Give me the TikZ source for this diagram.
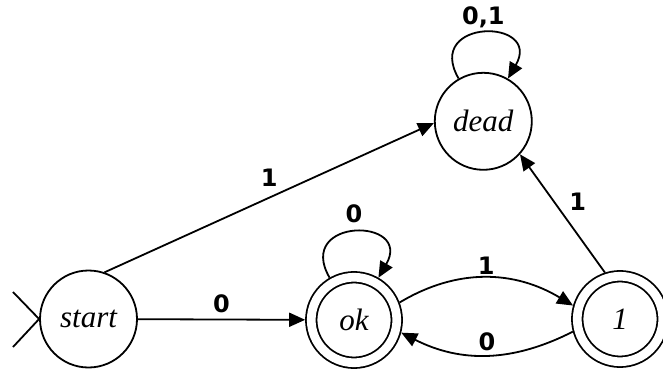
\documentclass[tikz,border=0pt]{standalone}
\usepackage{fontspec}
\setmainfont{Liberation Serif}
\newfontfamily\lblfont{DejaVu Sans}
\usetikzlibrary{arrows.meta,positioning}
\tikzset{
  stnode/.style={circle,draw,minimum size=97pt,inner sep=0pt,
    font=\fontsize{31}{36}\selectfont\itshape},
  accnode/.style={stnode,double,double distance=8.7pt,minimum size=85.5pt,outer sep=6.1pt},
  lbl/.style={font=\lblfont\bfseries\fontsize{24}{28}\selectfont,inner sep=2pt},
  loopedge/.style={min distance=70pt},
}
\begin{document}
\begin{tikzpicture}[x=1pt,y=-1pt,line width=1.8pt,>={Triangle[length=16pt,width=14pt]}]
      \useasboundingbox (0,0) rectangle (663,369);
      \draw
        (88.5,319) node[stnode] (start){start}
        (354,320) node[accnode] (ok){ok}
        (483.3,121.3) node[stnode] (dead){dead}
        (620,319) node[accnode] (one){1};
      \coordinate (inA) at (13,292);
      \coordinate (inB) at (13,347);
      \draw (inA) -- (start.west) -- (inB);
      \begin{scope}[->]
        \draw (start) to node[lbl,above=4pt]{0} (ok);
        \draw (start.71) to node[lbl,above=8.5pt]{1} (dead.182);
        \draw (ok.21) to[out=31,in=149] node[lbl,above]{1} (one.164);
        \draw (one.195) to[out=207,in=-27] node[lbl,above=1pt]{0} (ok.-15);
        \draw (one.108) to node[lbl,above right,xshift=4pt]{1} (dead.-42);
        \draw (ok) to[out=120,in=60,loopedge] node[lbl,above=6pt]{0} (ok);
        \draw (dead) to[out=120,in=60,loopedge] node[lbl,above=2.5pt]{0,1} (dead);
      \end{scope}
    \end{tikzpicture}
\end{document}
